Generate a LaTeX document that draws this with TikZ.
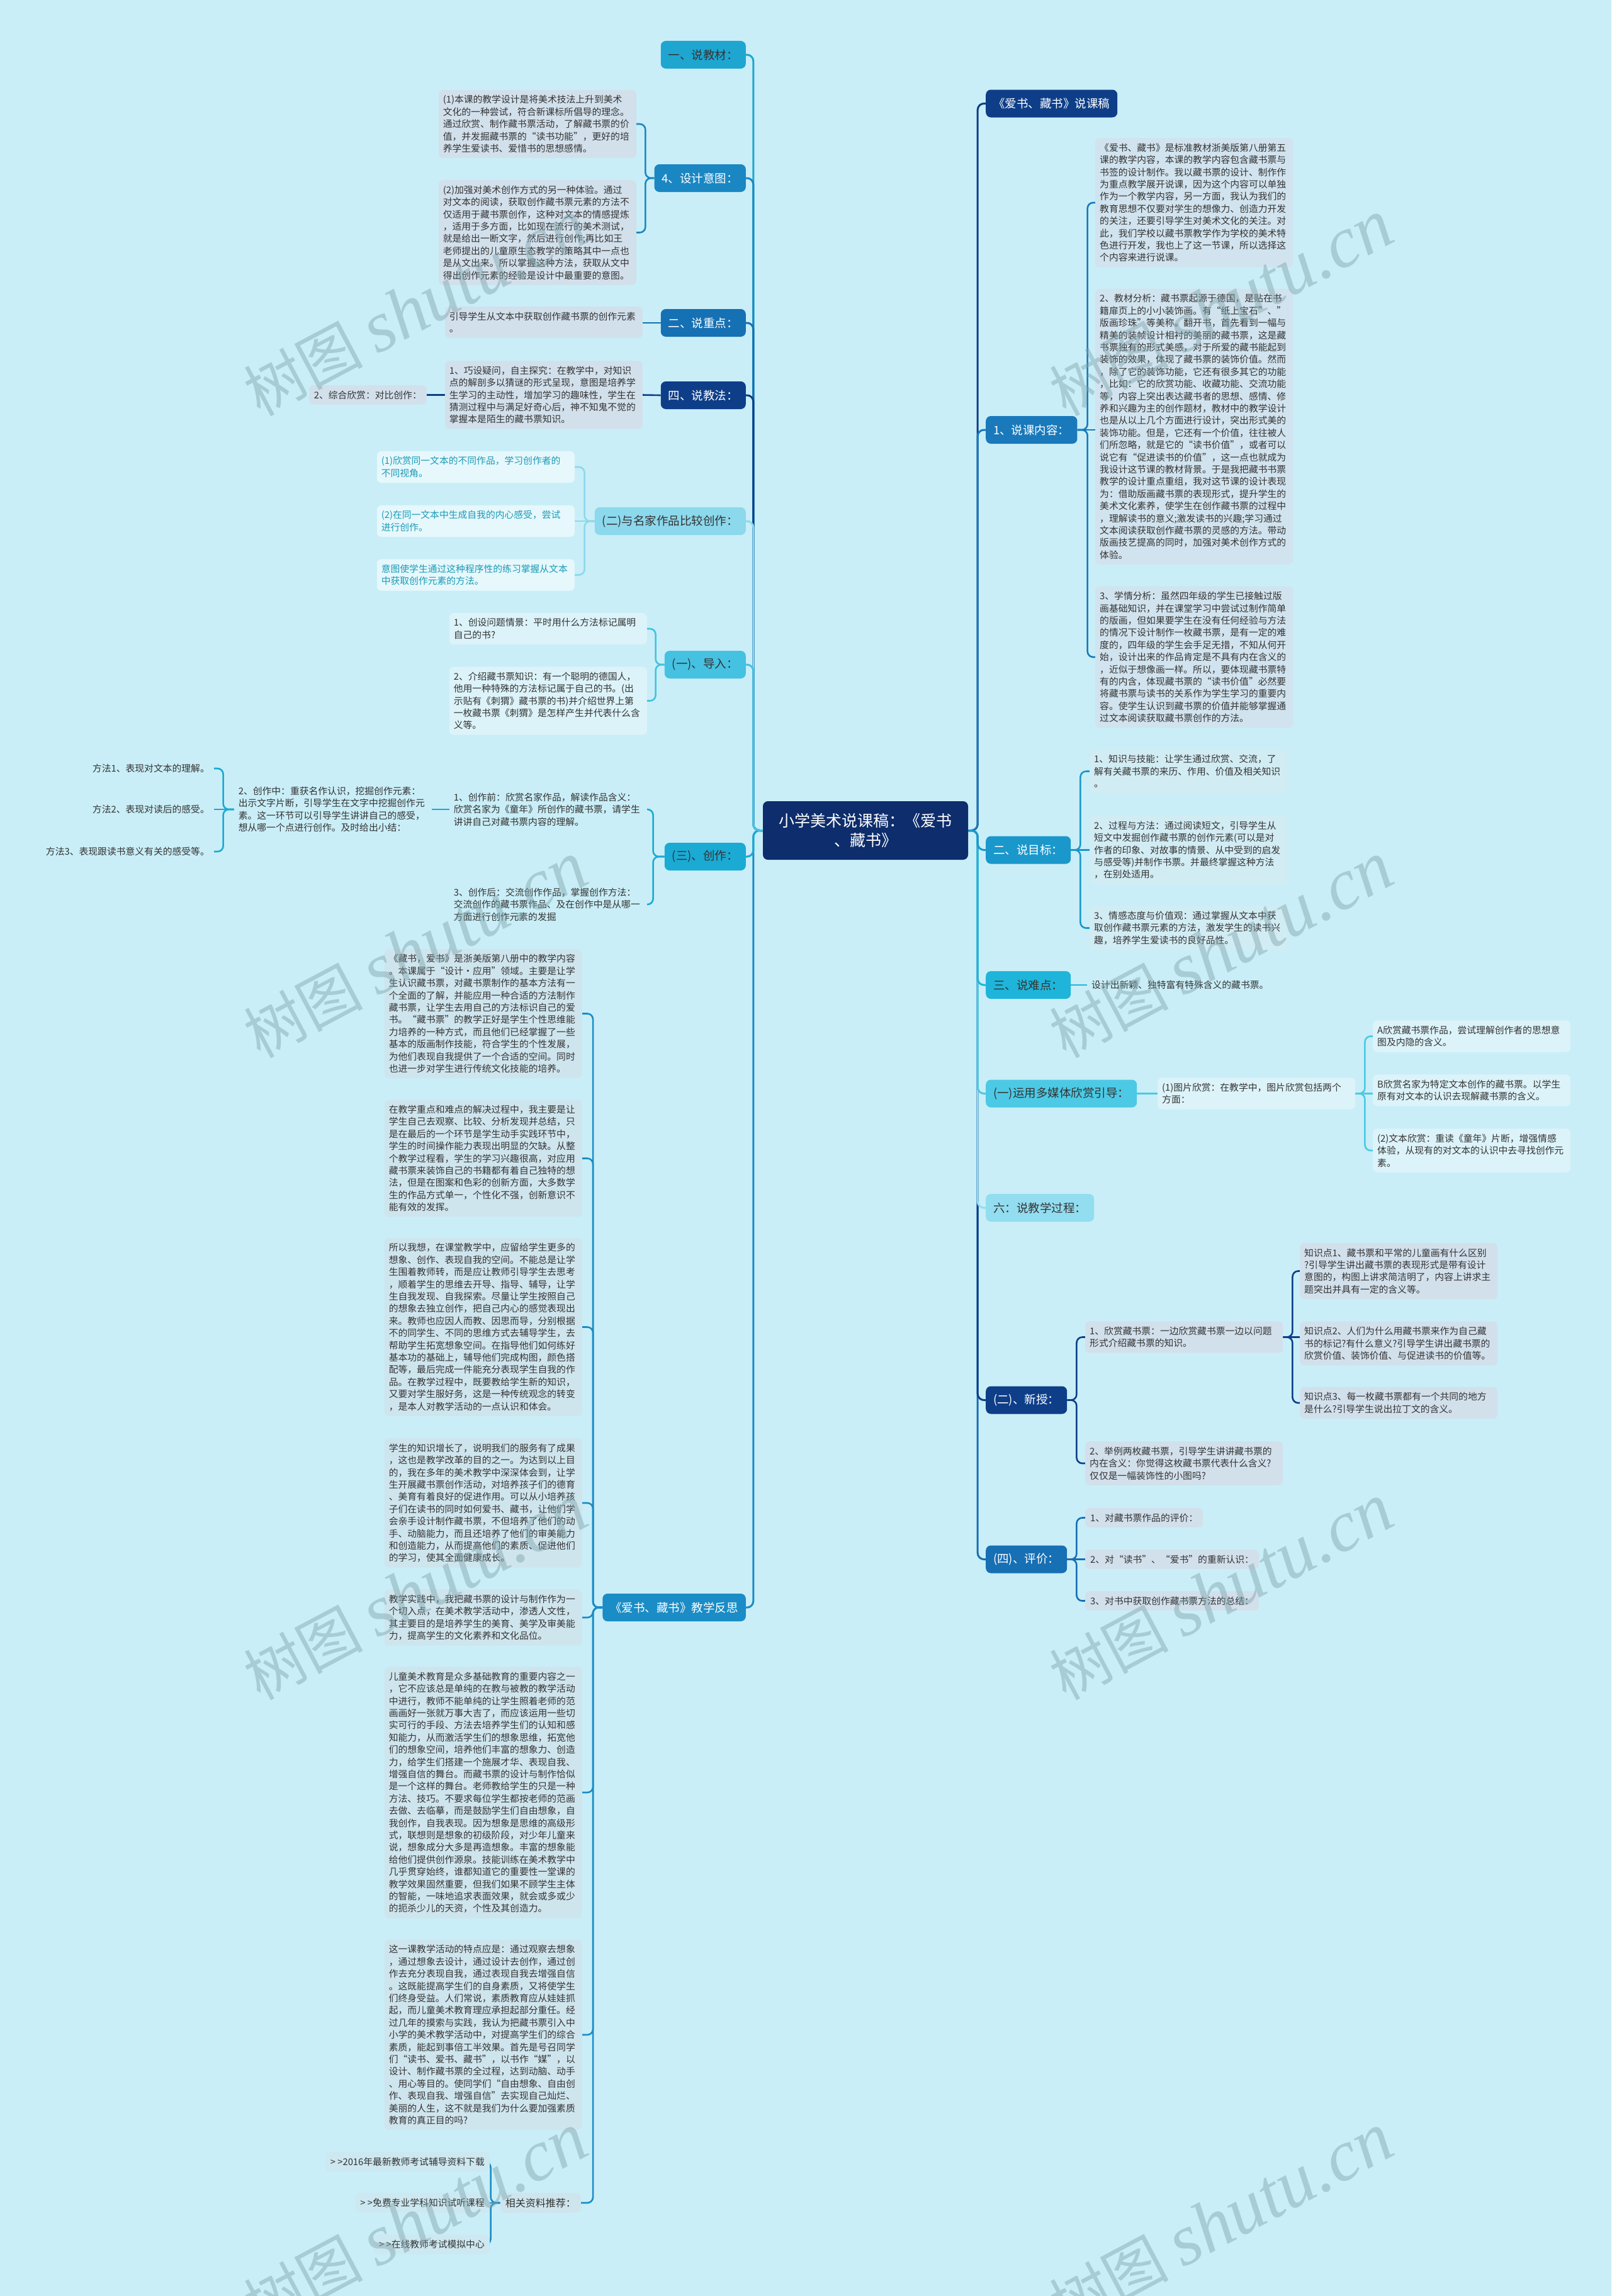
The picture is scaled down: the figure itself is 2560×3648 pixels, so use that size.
\documentclass[tikz,border=0pt]{standalone}
\usepackage{fontspec}
\setmainfont{Noto Sans CJK SC}
\newfontfamily\wml{Liberation Serif}
\usetikzlibrary{backgrounds}
\definecolor{bgc}{HTML}{C9EEF7}
\definecolor{txc}{HTML}{333333}
\definecolor{cNavy}{HTML}{0E3E88}
\definecolor{cCenter}{HTML}{0D2D6C}
\definecolor{cJC}{HTML}{1EA6D0}
\definecolor{cYT}{HTML}{1A87C3}
\definecolor{cZD}{HTML}{1670B4}
\definecolor{cMJ}{HTML}{8CD8EC}
\definecolor{cDR}{HTML}{45C1E2}
\definecolor{cCZ}{HTML}{1AAAD4}
\definecolor{cFS}{HTML}{1A8CC6}
\definecolor{cNR}{HTML}{1979BB}
\definecolor{cMB}{HTML}{1A97CB}
\definecolor{cND}{HTML}{1FB5DA}
\definecolor{cDM}{HTML}{4CC9E5}
\definecolor{cLC}{HTML}{92DDF0}
\definecolor{cPJ}{HTML}{176FB4}
\definecolor{fGray}{HTML}{D2E0EC}
\definecolor{fLight}{HTML}{DCF3F9}
\definecolor{fMJ}{HTML}{E6F8FC}
\definecolor{tMJ}{HTML}{1C9AB6}
\definecolor{fFS}{HTML}{CFE5EE}
\definecolor{fNR}{HTML}{D1E3EE}
\definecolor{fMB}{HTML}{D2ECF4}
\definecolor{fRes}{HTML}{CDE8F0}
\definecolor{wmc}{HTML}{7FA3AA}
\newcommand{\txf}{\fontsize{14.8pt}{19.4pt}\selectfont}
\newcommand{\brf}{\fontsize{18.5pt}{22pt}\selectfont}
\newcommand{\ctf}{\fontsize{25pt}{31pt}\selectfont}
\newcommand{\rsf}{\fontsize{16pt}{19pt}\selectfont}
\pgfdeclarelayer{back}
\pgfdeclarelayer{lines}
\pgfdeclarelayer{front}
\pgfsetlayers{back,lines,main,front}
\tikzset{
  brn/.style={rounded corners=8pt, minimum height=44pt, inner xsep=12pt, inner ysep=0pt, font=\brf, text=white, fill=#1},
  brd/.style={brn=#1, text=txc},
  tnode/.style={rounded corners=7pt, inner xsep=7pt, inner ysep=8.5pt, text width=300pt, align=left, font=\txf, text=txc, fill=#1},
  tfree/.style={inner xsep=7pt, inner ysep=8.5pt, align=left, font=\txf, text=txc},
  tsh/.style={rounded corners=7pt, inner xsep=8pt, inner ysep=8.5pt, font=\txf, text=txc, fill=#1},
  cn/.style={draw=#1, line width=2.6pt, rounded corners=9pt},
  tk/.style={draw=#1, line width=3pt, rounded corners=10pt},
  ctr/.style={rounded corners=8pt, fill=cCenter, text=white, font=\ctf, text width=276pt, align=center, inner xsep=25pt, minimum height=93pt},
  wm/.style={text=wmc, opacity=0.45, rotate=28, font=\fontsize{95pt}{100pt}\selectfont}
}
\begin{document}
\begin{tikzpicture}[x=1pt,y=-1pt]
\begin{pgfonlayer}{back}
\fill[bgc] (0,0) rectangle (2560,3648);
\end{pgfonlayer}
\useasboundingbox (0,0) rectangle (2560,3648);

% centre
\node[ctr] (c) at (1375,1319.5) {小学美术说课稿：《爱书\\、藏书》};

% ---------- left branches ----------
\node[brd=cJC, anchor=east] (jc) at (1185,87) {一、说教材：};
\node[brn=cYT, anchor=east] (yt) at (1185,283) {4、设计意图：};
\node[brn=cZD, anchor=east] (zd) at (1185,513) {二、说重点：};
\node[brn=cNavy, anchor=east] (jf) at (1185,628) {四、说教法：};
\node[brd=cMJ, anchor=east] (mj) at (1185,828) {(二)与名家作品比较创作：};
\node[brd=cDR, anchor=east] (dr) at (1185,1056) {(一)、导入：};
\node[brd=cCZ, anchor=east] (cz) at (1185,1361) {(三)、创作：};
\node[brn=cFS, anchor=east] (fs) at (1185,2554) {《爱书、藏书》教学反思};

\node[tnode=fGray, anchor=east] (yt1) at (1011,197) {(1)本课的教学设计是将美术技法上升到美术\\文化的一种尝试，符合新课标所倡导的理念。\\通过欣赏、制作藏书票活动，了解藏书票的价\\值，并发掘藏书票的“读书功能”，更好的培\\养学生爱读书、爱惜书的思想感情。};
\node[tnode=fGray, anchor=east] (yt2) at (1011,369.5) {(2)加强对美术创作方式的另一种体验。通过\\对文本的阅读，获取创作藏书票元素的方法不\\仅适用于藏书票创作，这种对文本的情感提炼\\，适用于多方面，比如现在流行的美术测试，\\就是给出一断文字，然后进行创作;再比如王\\老师提出的儿童原生态教学的策略其中一点也\\是从文出来。所以掌握这种方法，获取从文中\\得出创作元素的经验是设计中最重要的意图。};
\node[tnode=fGray, anchor=east] (zd1) at (1021,512) {引导学生从文本中获取创作藏书票的创作元素\\。};
\node[tnode=fGray, anchor=east] (jf1) at (1021,627.5) {1、巧设疑问，自主探究：在教学中，对知识\\点的解剖多以猜谜的形式呈现，意图是培养学\\生学习的主动性，增加学习的趣味性，学生在\\猜测过程中与满足好奇心后，神不知鬼不觉的\\掌握本是陌生的藏书票知识。};
\node[tsh=fGray, anchor=east] (jf2) at (678,627.5) {2、综合欣赏：对比创作：};

\node[tnode=fMJ, text=tMJ, anchor=east] (mj1) at (913,742) {(1)欣赏同一文本的不同作品，学习创作者的\\不同视角。};
\node[tnode=fMJ, text=tMJ, anchor=east] (mj2) at (913,828) {(2)在同一文本中生成自我的内心感受，尝试\\进行创作。};
\node[tnode=fMJ, text=tMJ, anchor=east] (mj3) at (913,913.5) {意图使学生通过这种程序性的练习掌握从文本\\中获取创作元素的方法。};

\node[tnode=fLight, anchor=east] (dr1) at (1028,999) {1、创设问题情景：平时用什么方法标记属明\\自己的书?};
\node[tnode=fLight, anchor=east] (dr2) at (1028,1113.5) {2、介绍藏书票知识：有一个聪明的德国人，\\他用一种特殊的方法标记属于自己的书。(出\\示贴有《刺猬》藏书票的书)并介绍世界上第\\一枚藏书票《刺猬》是怎样产生并代表什么含\\义等。};

\node[tfree, text width=300pt, anchor=east] (cz1) at (1028,1286) {1、创作前：欣赏名家作品，解读作品含义：\\欣赏名家为《童年》所创作的藏书票，请学生\\讲讲自己对藏书票内容的理解。};
\node[tfree, text width=300pt, anchor=east] (cz2) at (686,1286) {2、创作中：重获名作认识，挖掘创作元素：\\出示文字片断，引导学生在文字中挖掘创作元\\素。这一环节可以引导学生讲讲自己的感受，\\想从哪一个点进行创作。及时给出小结：};
\node[tfree, text width=300pt, anchor=east] (cz3) at (1028,1437) {3、创作后：交流创作作品，掌握创作方法：\\交流创作的藏书票作品、及在创作中是从哪一\\方面进行创作元素的发掘};
\node[tfree, anchor=east] (ff1) at (340,1221) {方法1、表现对文本的理解。};
\node[tfree, anchor=east] (ff2) at (340,1286) {方法2、表现对读后的感受。};
\node[tfree, anchor=east] (ff3) at (340,1353) {方法3、表现跟读书意义有关的感受等。};

\node[tnode=fFS, anchor=east] (fsA) at (925,1610.5) {《藏书，爱书》是浙美版第八册中的教学内容\\。本课属于“设计·应用”领域。主要是让学\\生认识藏书票，对藏书票制作的基本方法有一\\个全面的了解，并能应用一种合适的方法制作\\藏书票，让学生去用自己的方法标识自己的爱\\书。“藏书票”的教学正好是学生个性思维能\\力培养的一种方式，而且他们已经掌握了一些\\基本的版画制作技能，符合学生的个性发展，\\为他们表现自我提供了一个合适的空间。同时\\也进一步对学生进行传统文化技能的培养。};
\node[tnode=fFS, anchor=east] (fsB) at (925,1840.5) {在教学重点和难点的解决过程中，我主要是让\\学生自己去观察、比较、分析发现并总结，只\\是在最后的一个环节是学生动手实践环节中，\\学生的时间操作能力表现出明显的欠缺。从整\\个教学过程看，学生的学习兴趣很高，对应用\\藏书票来装饰自己的书籍都有着自己独特的想\\法，但是在图案和色彩的创新方面，大多数学\\生的作品方式单一，个性化不强，创新意识不\\能有效的发挥。};
\node[tnode=fFS, anchor=east] (fsC) at (925,2108.5) {所以我想，在课堂教学中，应留给学生更多的\\想象、创作、表现自我的空间。不能总是让学\\生围着教师转，而是应让教师引导学生去思考\\，顺着学生的思维去开导、指导、辅导，让学\\生自我发现、自我探索。尽量让学生按照自己\\的想象去独立创作，把自己内心的感觉表现出\\来。教师也应因人而教、因思而导，分别根据\\不的同学生、不同的思维方式去辅导学生，去\\帮助学生拓宽想象空间。在指导他们如何练好\\基本功的基础上，辅导他们完成构图，颜色搭\\配等，最后完成一件能充分表现学生自我的作\\品。在教学过程中，既要教给学生新的知识，\\又要对学生服好务，这是一种传统观念的转变\\，是本人对教学活动的一点认识和体会。};
\node[tnode=fFS, anchor=east] (fsD) at (925,2388) {学生的知识增长了，说明我们的服务有了成果\\，这也是教学改革的目的之一。为达到以上目\\的，我在多年的美术教学中深深体会到，让学\\生开展藏书票创作活动，对培养孩子们的德育\\、美育有着良好的促进作用。可以从小培养孩\\子们在读书的同时如何爱书、藏书，让他们学\\会亲手设计制作藏书票，不但培养了他们的动\\手、动脑能力，而且还培养了他们的审美能力\\和创造能力，从而提高他们的素质、促进他们\\的学习，使其全面健康成长。};
\node[tnode=fFS, anchor=east] (fsE) at (925,2570) {教学实践中，我把藏书票的设计与制作作为一\\个切入点，在美术教学活动中，渗透人文性，\\其主要目的是培养学生的美育、美学及审美能\\力，提高学生的文化素养和文化品位。};
\node[tnode=fFS, anchor=east] (fsF) at (925,2848) {儿童美术教育是众多基础教育的重要内容之一\\，它不应该总是单纯的在教与被教的教学活动\\中进行，教师不能单纯的让学生照着老师的范\\画画好一张就万事大吉了，而应该运用一些切\\实可行的手段、方法去培养学生们的认知和感\\知能力，从而激活学生们的想象思维，拓宽他\\们的想象空间，培养他们丰富的想象力、创造\\力，给学生们搭建一个施展才华、表现自我、\\增强自信的舞台。而藏书票的设计与制作恰似\\是一个这样的舞台。老师教给学生的只是一种\\方法、技巧。不要求每位学生都按老师的范画\\去做、去临摹，而是鼓励学生们自由想象，自\\我创作，自我表现。因为想象是思维的高级形\\式，联想则是想象的初级阶段，对少年儿童来\\说，想象成分大多是再造想象。丰富的想象能\\给他们提供创作源泉。技能训练在美术教学中\\几乎贯穿始终，谁都知道它的重要性一堂课的\\教学效果固然重要，但我们如果不顾学生主体\\的智能，一味地追求表面效果，就会或多或少\\的扼杀少儿的天资，个性及其创造力。};
\node[tnode=fFS, anchor=east] (fsG) at (925,3233) {这一课教学活动的特点应是：通过观察去想象\\，通过想象去设计，通过设计去创作，通过创\\作去充分表现自我，通过表现自我去增强自信\\。这既能提高学生们的自身素质，又将使学生\\们终身受益。人们常说，素质教育应从娃娃抓\\起，而儿童美术教育理应承担起部分重任。经\\过几年的摸索与实践，我认为把藏书票引入中\\小学的美术教学活动中，对提高学生们的综合\\素质，能起到事倍工半效果。首先是号召同学\\们“读书、爱书、藏书”，以书作“媒”，以\\设计、制作藏书票的全过程，达到动脑、动手\\、用心等目的。使同学们“自由想象、自由创\\作、表现自我、增强自信”去实现自己灿烂、\\美丽的人生，这不就是我们为什么要加强素质\\教育的真正目的吗?};
\node[tsh=fFS, font=\rsf, anchor=east] (fsH) at (923,3500) {相关资料推荐：};
\node[tsh=fRes, anchor=east] (r1) at (778,3435) {> >2016年最新教师考试辅导资料下载};
\node[tsh=fRes, anchor=east] (r2) at (778,3500) {> >免费专业学科知识试听课程};
\node[tsh=fRes, anchor=east] (r3) at (778,3566) {> >在线教师考试模拟中心};

% ---------- right branches ----------
\node[brn=cNavy, anchor=west] (kg) at (1566,164.5) {《爱书、藏书》说课稿};
\node[brn=cNR, anchor=west] (nr) at (1566,683) {1、说课内容：};
\node[brn=cMB, anchor=west] (mb) at (1566,1350.5) {二、说目标：};
\node[brd=cND, anchor=west] (nd) at (1566,1565) {三、说难点：};
\node[brd=cDM, anchor=west] (dm) at (1566,1737.5) {(一)运用多媒体欣赏引导：};
\node[brd=cLC, anchor=west] (lc) at (1566,1919) {六：说教学过程：};
\node[brn=cNavy, anchor=west] (xs) at (1566,2224.5) {(二)、新授：};
\node[brn=cPJ, anchor=west] (pj) at (1566,2477.5) {(四)、评价：};

\node[tnode=fNR, anchor=west] (nr1) at (1740,322) {《爱书、藏书》是标准教材浙美版第八册第五\\课的教学内容，本课的教学内容包含藏书票与\\书签的设计制作。我以藏书票的设计、制作作\\为重点教学展开说课，因为这个内容可以单独\\作为一个教学内容，另一方面，我认为我们的\\教育思想不仅要对学生的想像力、创造力开发\\的关注，还要引导学生对美术文化的关注。对\\此，我们学校以藏书票教学作为学校的美术特\\色进行开发，我也上了这一节课，所以选择这\\个内容来进行说课。};
\node[tnode=fNR, anchor=west] (nr2) at (1740,678) {2、教材分析：藏书票起源于德国，是贴在书\\籍扉页上的小小装饰画。有“纸上宝石”、”\\版画珍珠”等美称。翻开书，首先看到一幅与\\精美的装帧设计相衬的美丽的藏书票，这是藏\\书票独有的形式美感，对于所爱的藏书能起到\\装饰的效果，体现了藏书票的装饰价值。然而\\，除了它的装饰功能，它还有很多其它的功能\\，比如：它的欣赏功能、收藏功能、交流功能\\等，内容上突出表达藏书者的思想、感情、修\\养和兴趣为主的创作题材，教材中的教学设计\\也是从以上几个方面进行设计，突出形式美的\\装饰功能。但是，它还有一个价值，往往被人\\们所忽略，就是它的“读书价值”，或者可以\\说它有“促进读书的价值”，这一点也就成为\\我设计这节课的教材背景。于是我把藏书书票\\教学的设计重点重组，我对这节课的设计表现\\为：借助版画藏书票的表现形式，提升学生的\\美术文化素养，使学生在创作藏书票的过程中\\，理解读书的意义;激发读书的兴趣;学习通过\\文本阅读获取创作藏书票的灵感的方法。带动\\版画技艺提高的同时，加强对美术创作方式的\\体验。};
\node[tnode=fNR, anchor=west] (nr3) at (1740,1044) {3、学情分析：虽然四年级的学生已接触过版\\画基础知识，并在课堂学习中尝试过制作简单\\的版画，但如果要学生在没有任何经验与方法\\的情况下设计制作一枚藏书票，是有一定的难\\度的，四年级的学生会手足无措，不知从何开\\始，设计出来的作品肯定是不具有内在含义的\\，近似于想像画一样。所以，要体现藏书票特\\有的内含，体现藏书票的“读书价值”必然要\\将藏书票与读书的关系作为学生学习的重要内\\容。使学生认识到藏书票的价值并能够掌握通\\过文本阅读获取藏书票创作的方法。};

\node[tnode=fMB, anchor=west] (mb1) at (1731,1225.5) {1、知识与技能：让学生通过欣赏、交流，了\\解有关藏书票的来历、作用、价值及相关知识\\。};
\node[tnode=fMB, anchor=west] (mb2) at (1731,1350.5) {2、过程与方法：通过阅读短文，引导学生从\\短文中发掘创作藏书票的创作元素(可以是对\\作者的印象、对故事的情景、从中受到的启发\\与感受等)并制作书票。并最终掌握这种方法\\，在别处适用。};
\node[tnode=fMB, anchor=west] (mb3) at (1731,1474.5) {3、情感态度与价值观：通过掌握从文本中获\\取创作藏书票元素的方法，激发学生的读书兴\\趣，培养学生爱读书的良好品性。};

\node[tfree, anchor=west] (nd1) at (1727,1565) {设计出新颖、独特富有特殊含义的藏书票。};

\node[tnode=fLight, anchor=west] (dm1) at (1839,1737.5) {(1)图片欣赏：在教学中，图片欣赏包括两个\\方面：};
\node[tnode=fLight, anchor=west] (dA) at (2181,1646.5) {A欣赏藏书票作品，尝试理解创作者的思想意\\图及内隐的含义。};
\node[tnode=fLight, anchor=west] (dB) at (2181,1732.5) {B欣赏名家为特定文本创作的藏书票。以学生\\原有对文本的认识去现解藏书票的含义。};
\node[tnode=fLight, anchor=west] (dC) at (2181,1828) {(2)文本欣赏：重读《童年》片断，增强情感\\体验，从现有的对文本的认识中去寻找创作元\\素。};

\node[tnode=fGray, anchor=west] (xs1) at (1724,2124.5) {1、欣赏藏书票：一边欣赏藏书票一边以问题\\形式介绍藏书票的知识。};
\node[tnode=fGray, anchor=west] (xs2) at (1724,2325) {2、举例两枚藏书票，引导学生讲讲藏书票的\\内在含义：你觉得这枚藏书票代表什么含义?\\仅仅是一幅装饰性的小图吗?};
\node[tnode=fGray, anchor=west] (k1) at (2065,2019.5) {知识点1、藏书票和平常的儿童画有什么区别\\?引导学生讲出藏书票的表现形式是带有设计\\意图的，构图上讲求简洁明了，内容上讲求主\\题突出并具有一定的含义等。};
\node[tnode=fGray, anchor=west] (k2) at (2065,2134.5) {知识点2、人们为什么用藏书票来作为自己藏\\书的标记?有什么意义?引导学生讲出藏书票的\\欣赏价值、装饰价值、与促进读书的价值等。};
\node[tnode=fGray, anchor=west] (k3) at (2065,2229) {知识点3、每一枚藏书票都有一个共同的地方\\是什么?引导学生说出拉丁文的含义。};

\node[tsh=fGray, anchor=west] (pj1) at (1724,2411.5) {1、对藏书票作品的评价：};
\node[tsh=fGray, anchor=west] (pj2) at (1724,2477.5) {2、对“读书”、“爱书”的重新认识：};
\node[tsh=fGray, anchor=west] (pj3) at (1724,2543.5) {3、对书中获取创作藏书票方法的总结：};

% ---------- connectors ----------
\begin{pgfonlayer}{lines}
% left trunk
\draw[tk=cFS] (c.west) -- ++(-15,0) |- (fs.east);
\draw[tk=cCZ] (c.west) -- ++(-15,0) |- (cz.east);
\draw[tk=cJC] (c.west) -- ++(-15,0) |- (jc.east);
\draw[tk=cYT] (c.west) -- ++(-15,0) |- (yt.east);
\draw[tk=cZD] (c.west) -- ++(-15,0) |- (zd.east);
\draw[tk=cNavy] (c.west) -- ++(-15,0) |- (jf.east);
\draw[tk=cMJ] (c.west) -- ++(-15,0) |- (mj.east);
\draw[tk=cDR] (c.west) -- ++(-15,0) |- (dr.east);
% right trunk
\draw[tk=cPJ] (c.east) -- ++(15,0) |- (pj.west);
\draw[tk=cNavy] (c.east) -- ++(15,0) |- (xs.west);
\draw[tk=cLC] (c.east) -- ++(15,0) |- (lc.west);
\draw[tk=cDM] (c.east) -- ++(15,0) |- (dm.west);
\draw[tk=cND] (c.east) -- ++(15,0) |- (nd.west);
\draw[tk=cNavy] (c.east) -- ++(15,0) |- (kg.west);
\draw[tk=cNR] (c.east) -- ++(15,0) |- (nr.west);
\draw[tk=cMB] (c.east) -- ++(15,0) |- (mb.west);
% left children
\draw[cn=cYT] (yt.west) -- ++(-14,0) |- (yt1.east);
\draw[cn=cYT] (yt.west) -- ++(-14,0) |- (yt2.east);
\draw[cn=cZD] (zd.west) -- (zd.west -| zd1.east);
\draw[cn=cNavy] (jf.west) -- (jf1.east);
\draw[cn=cNavy] (jf1.west) -- (jf2.east);
\draw[cn=cMJ] (mj.west) -- ++(-16,0) |- (mj1.east);
\draw[cn=cMJ] (mj.west) -- (mj2.east);
\draw[cn=cMJ] (mj.west) -- ++(-16,0) |- (mj3.east);
\draw[cn=cDR] (dr.west) -- ++(-14,0) |- (dr1.east);
\draw[cn=cDR] (dr.west) -- ++(-14,0) |- (dr2.east);
\draw[cn=cCZ] (cz.west) -- ++(-18,0) |- (cz1.east);
\draw[cn=cCZ] (cz.west) -- ++(-18,0) |- (cz3.east);
\draw[cn=cCZ] (cz1.west) -- (cz2.east);
\draw[cn=cCZ] (cz2.west) -- ++(-17,0) |- (ff1.east);
\draw[cn=cCZ] (cz2.west) -- (ff2.east);
\draw[cn=cCZ] (cz2.west) -- ++(-17,0) |- (ff3.east);
\foreach \k in {fsA,fsB,fsC,fsD,fsE,fsF,fsG,fsH}
  \draw[cn=cFS] (fs.west) -- ++(-15,0) |- (\k.east);
\draw[cn=cFS] (fsH.west) -- ++(-15,0) |- (r1.east);
\draw[cn=cFS] (fsH.west) -- (r2.east);
\draw[cn=cFS] (fsH.west) -- ++(-15,0) |- (r3.east);
% right children
\draw[cn=cNR] (nr.east) -- ++(16,0) |- (nr1.west);
\draw[cn=cNR] (nr.east) -- (nr.east -| nr2.west);
\draw[cn=cNR] (nr.east) -- ++(16,0) |- (nr3.west);
\draw[cn=cMB] (mb.east) -- ++(15,0) |- (mb1.west);
\draw[cn=cMB] (mb.east) -- (mb2.west);
\draw[cn=cMB] (mb.east) -- ++(15,0) |- (mb3.west);
\draw[cn=cND] (nd.east) -- (nd1.west);
\draw[cn=cDM] (dm.east) -- (dm1.west);
\draw[cn=cDM] (dm1.east) -- ++(15,0) |- (dA.west);
\draw[cn=cDM] (dm1.east) -- (dm1.east -| dB.west);
\draw[cn=cDM] (dm1.east) -- ++(15,0) |- (dC.west);
\draw[cn=cNavy] (xs.east) -- ++(15,0) |- (xs1.west);
\draw[cn=cNavy] (xs.east) -- ++(15,0) |- (xs2.west);
\draw[cn=cNavy] (xs1.east) -- ++(15,0) |- (k1.west);
\draw[cn=cNavy] (xs1.east) -- (xs1.east -| k2.west);
\draw[cn=cNavy] (xs1.east) -- ++(15,0) |- (k3.west);
\draw[cn=cPJ] (pj.east) -- ++(15,0) |- (pj1.west);
\draw[cn=cPJ] (pj.east) -- (pj2.west);
\draw[cn=cPJ] (pj.east) -- ++(15,0) |- (pj3.west);
\end{pgfonlayer}

% ---------- watermarks ----------
\begin{pgfonlayer}{front}
\foreach \wx/\wy [count=\i] in {660/490,1940/490,660/1510,1940/1510,660/2530,1940/2530,660/3530,1940/3530}
  \node[wm] (wm\i) at (\wx,\wy) {树图 {\wml\itshape\fontsize{115pt}{120pt}\selectfont shutu.cn}};
\end{pgfonlayer}
\end{tikzpicture}
\end{document}
